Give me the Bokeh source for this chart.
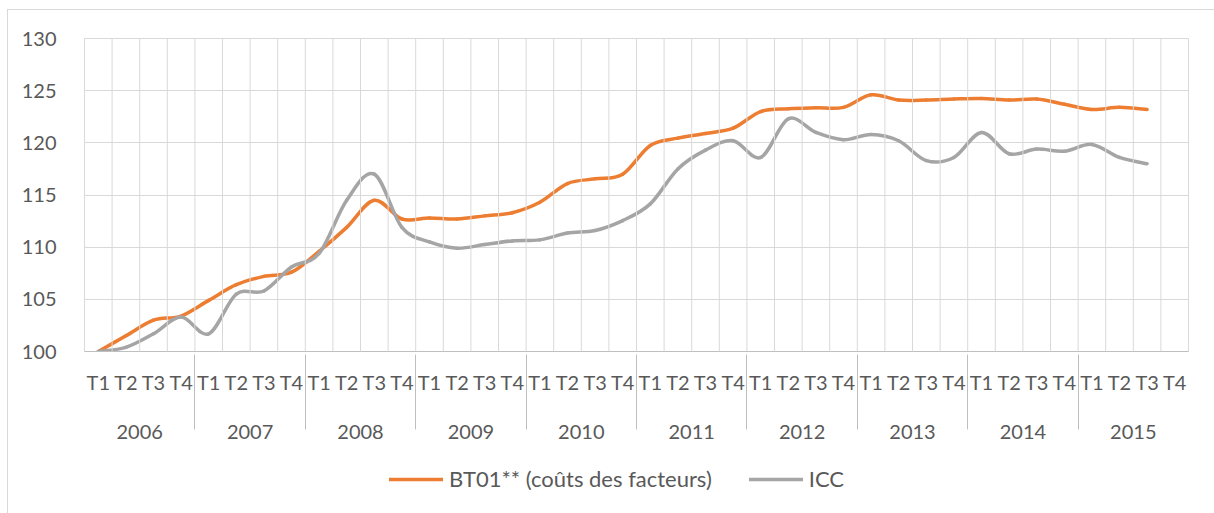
from bokeh.plotting import figure
from bokeh.layouts import column
from bokeh.models import FactorRange, Range1d, FixedTicker, Span, Legend, LegendItem, ColumnDataSource
from bokeh.embed import file_html
from bokeh.resources import INLINE

years = ["2006", "2007", "2008", "2009", "2010", "2011", "2012", "2013", "2014", "2015"]
quarters = ["T1", "T2", "T3", "T4"]

bt01 = [100.0, 101.5, 103.0, 103.4, 104.9, 106.4, 107.2, 107.6,
        109.6, 111.9, 114.5, 112.7, 112.8, 112.7, 113.0, 113.3,
        114.3, 116.1, 116.55, 117.0, 119.75, 120.45, 120.9, 121.4,
        123.0, 123.27, 123.36, 123.4, 124.6, 124.1, 124.1, 124.2,
        124.25, 124.1, 124.2, 123.7, 123.2, 123.4, 123.2]
icc = [100.0, 100.4, 101.7, 103.3, 101.7, 105.5, 105.8, 108.1,
       109.4, 114.5, 117.0, 111.9, 110.5, 109.9, 110.25, 110.6,
       110.7, 111.35, 111.6, 112.55, 114.15, 117.5, 119.3, 120.2,
       118.6, 122.3, 121.0, 120.3, 120.8, 120.2, 118.3, 118.6,
       121.0, 118.95, 119.4, 119.2, 119.85, 118.6, 118.0]

y_ticks = [100, 105, 110, 115, 120, 125, 130]

factors = [(y, " ", q) for y in years for q in quarters]

FONT = "Lato"
TXT = "#595959"
GRID = "#d9d9d9"
ORANGE = "#ED7D31"
GREY = "#A5A5A5"


def smooth_source(vals):
    # Catmull-Rom style cubic Bezier control points (Excel "smoothed line")
    xs = [i + 0.5 for i in range(len(vals))]
    n = len(vals)
    d = dict(x0=[], y0=[], x1=[], y1=[], cx0=[], cy0=[], cx1=[], cy1=[])
    for i in range(n - 1):
        pm = (xs[max(i - 1, 0)], vals[max(i - 1, 0)])
        p0 = (xs[i], vals[i])
        p1 = (xs[i + 1], vals[i + 1])
        p2 = (xs[min(i + 2, n - 1)], vals[min(i + 2, n - 1)])
        d["x0"].append(p0[0]); d["y0"].append(p0[1])
        d["x1"].append(p1[0]); d["y1"].append(p1[1])
        d["cx0"].append(p0[0] + (p1[0] - pm[0]) / 6.0)
        d["cy0"].append(p0[1] + (p1[1] - pm[1]) / 6.0)
        d["cx1"].append(p1[0] - (p2[0] - p0[0]) / 6.0)
        d["cy1"].append(p1[1] - (p2[1] - p0[1]) / 6.0)
    return ColumnDataSource(d)


src_bt = smooth_source(bt01)
src_icc = smooth_source(icc)

p = figure(
    width=1214, height=460,
    x_range=FactorRange(*factors, factor_padding=0, group_padding=0,
                        subgroup_padding=0, range_padding=0),
    y_range=Range1d(100, 130),
    output_backend="svg", toolbar_location=None,
    min_border_left=84, min_border_top=38, min_border_right=26, min_border_bottom=109,
)
p.border_fill_color = None
p.background_fill_color = "white"
p.outline_line_color = GRID
p.xgrid.visible = False
p.ygrid.grid_line_color = GRID
p.ygrid.grid_line_width = 1
p.yaxis.ticker = FixedTicker(ticks=y_ticks)
p.yaxis.axis_line_color = None
p.yaxis.major_tick_line_color = None
p.yaxis.minor_tick_line_color = None
p.yaxis.major_label_standoff = 22
p.yaxis.major_label_text_font = FONT
p.yaxis.major_label_text_font_size = "20px"
p.yaxis.major_label_text_color = TXT

for k in range(1, len(factors)):
    p.add_layout(Span(location=k, dimension="height", line_color=GRID, line_width=1))

xa = p.xaxis[0]
xa.axis_line_color = "#bfbfbf"
xa.axis_line_width = 1
xa.major_tick_line_color = None
xa.minor_tick_line_color = None
xa.major_label_text_font = FONT
xa.major_label_text_font_size = "20px"
xa.major_label_text_color = TXT
xa.major_label_standoff = 12
xa.subgroup_text_font = FONT
xa.subgroup_text_font_size = "1px"
xa.group_text_font = FONT
xa.group_text_font_size = "20px"
xa.group_text_font_style = "normal"
xa.group_text_color = TXT
xa.separator_line_color = "#bfbfbf"
xa.separator_line_width = 1

kw = dict(x0="x0", y0="y0", x1="x1", y1="y1", cx0="cx0", cy0="cy0", cx1="cx1", cy1="cy1",
          line_width=3.5, line_cap="round")
p.bezier(source=src_bt, line_color=ORANGE, **kw)
p.bezier(source=src_icc, line_color=GREY, **kw)

# legend strip (same series; its ranges keep the curves out of view, only the key shows)
lg = figure(width=1214, height=53, x_range=Range1d(0, 1), y_range=Range1d(0, 1),
            x_axis_type=None, y_axis_type=None, output_backend="svg", toolbar_location=None,
            min_border=0, min_border_left=0, min_border_right=0, min_border_top=0, min_border_bottom=0)
lg.border_fill_color = None
lg.background_fill_color = None
lg.outline_line_color = None
lg.xgrid.visible = False
lg.ygrid.visible = False
l1 = lg.bezier(source=src_bt, line_color=ORANGE, **kw)
l2 = lg.bezier(source=src_icc, line_color=GREY, **kw)
legend = Legend(items=[LegendItem(label="BT01** (coûts des facteurs)", renderers=[l1]),
                       LegendItem(label="ICC", renderers=[l2])],
                orientation="horizontal", location=(305, 21),
                label_text_font=FONT, label_text_font_size="22px", label_text_color=TXT,
                border_line_color=None, background_fill_alpha=0,
                glyph_width=54, glyph_height=20, spacing=37, label_standoff=6,
                padding=0, margin=0)
lg.add_layout(legend, "center")

layout = column(p, lg, spacing=0)
layout.styles = {
    "background": "linear-gradient(#d9d9d9,#d9d9d9) 7px 9px / 1px 100% no-repeat, "
                  "linear-gradient(#d9d9d9,#d9d9d9) 7px 9px / 100% 1px no-repeat, white",
}

open("out.html", "w").write(file_html(layout, INLINE))
